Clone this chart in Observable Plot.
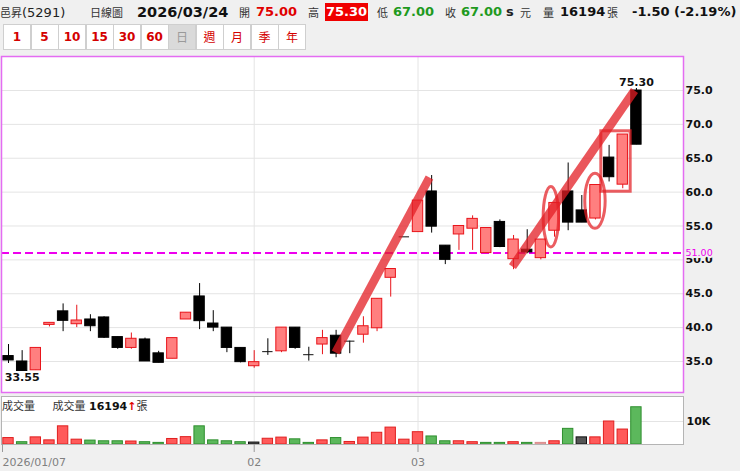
<!DOCTYPE html>
<html><head><meta charset="utf-8">
<script src="https://cdn.jsdelivr.net/npm/d3@7"></script>
<script src="https://cdn.jsdelivr.net/npm/@observablehq/plot@0.6"></script>
<style>
body{margin:0;background:#f0f0f0;width:740px;height:471px;overflow:hidden;position:relative;font-family:"DejaVu Sans",sans-serif;}
.h{position:absolute;top:3px;line-height:18px;white-space:nowrap;font-size:13px;color:#222}
.c{font-family:"Noto Sans CJK TC","DejaVu Sans";font-size:11px;color:#333}
.b{font-weight:bold}
.btn{position:absolute;top:24px;width:26px;height:24px;border:1px solid #cfcfcf;background:#fff;color:#d40000;font-weight:bold;font-size:12px;text-align:center;line-height:24px;box-sizing:content-box}
.btn.cj{font-weight:normal;font-family:"Noto Sans CJK TC";font-size:12px}
.btn.sel{background:#dadada;color:#9a9a9a}
#price{position:absolute;left:0;top:54px}
#vol{position:absolute;left:0;top:394px}
#voltitle{position:absolute;left:2px;top:398px;font-size:11px;line-height:14px;white-space:nowrap;color:#333}
</style></head>
<body>
<div id="hdr"></div>
<div id="price"></div>
<div id="vol"></div>
<div id="voltitle"></div>
<script>
// ---------- data ----------
const stockName = "邑昇(5291)";
const chartType = "日線圖";
const lastDate = "2026/03/24";
const quote = {open: "75.00", high: "75.30", low: "67.00", close: "67.00", vol: "16194", chg: "-1.50 (-2.19%)"};
const periodButtons = ["1","5","10","15","30","60","日","週","月","季","年"];

const openP  = [35.8,35.0,33.7,40.4,42.4,40.5,41.2,41.5,38.6,37.0,38.25,36.2,35.4,41.2,44.6,40.6,40.0,37.0,34.3,36.45,36.5,40.0,36.0,37.5,38.8,38.0,38.95,39.9,47.35,53.4,54.1,60.1,52.1,53.75,54.6,51.0,55.6,50.1,51.5,50.25,54.3,60.1,57.3,56.1,65.1,61.1,75.0];
const highP  = [37.5,36.6,37.0,40.7,43.5,43.3,41.9,41.6,38.6,39.2,38.45,36.5,38.45,42.2,46.5,42.5,40.0,37.0,36.6,38.35,40.0,40.0,37.1,39.6,39.6,38.0,41.6,44.25,48.65,53.4,58.75,62.45,52.1,55.0,56.5,54.7,55.9,53.6,54.45,53.0,58.4,64.3,59.5,61.05,66.9,68.5,75.3];
const lowP   = [34.7,33.55,33.7,40.1,39.4,40.0,39.4,38.4,36.8,36.8,35.0,34.8,35.4,41.2,39.7,39.4,36.3,34.8,34.0,35.9,36.3,36.8,35.05,36.0,35.55,36.15,37.7,39.4,44.5,53.4,54.1,53.95,49.3,51.4,51.4,51.0,51.8,48.55,50.9,50.0,53.35,54.3,55.5,55.9,61.5,60.5,67.0];
const closeP = [35.15,33.6,37.0,40.7,41.0,41.05,40.2,38.5,37.0,38.35,35.0,34.8,38.45,42.2,40.95,40.0,37.0,34.9,34.9,36.45,40.0,37.0,36.0,38.45,36.15,38.0,40.2,44.25,48.65,53.4,58.75,54.9,50.0,55.0,56.05,54.7,51.9,53.0,51.1,53.0,58.4,55.5,55.5,61.05,62.2,68.5,67.0];
const volume = [2800,1000,3100,1800,7900,2100,1700,1400,1400,1300,1000,700,2400,3200,7900,1800,1400,1000,850,2500,3000,2250,700,1800,2800,1100,3000,5100,7350,2100,5350,3500,1400,1400,1000,700,700,1000,700,700,1400,6800,3100,3100,10000,6500,16194];
const volDir = ["u","d","u","u","u","u","d","d","d","u","d","d","u","u","d","d","d","d","f","u","u","d","d","u","d","u","u","u","u","u","u","d","d","u","u","d","d","u","d","p","u","d","f","u","u","u","d"];

const tickIdx = [0, 18, 30];
const tickText = ["2026/01/07", "02", "03"];
const priceTicks = [35,40,45,50,55,60,65,70,75];
const volTicks = [10000];
const refLevel = [51];
const labelHigh = [{i: 46, p: 75.3, t: "75.30"}];
const labelLow = [{i: 1, p: 33.55, t: "33.55"}];
// annotations (in index / price units)
const trendLines = [{x1: 23.96, y1: 36.33, x2: 30.84, y2: 62.16}, {x1: 36.92, y1: 49.0, x2: 45.86, y2: 75.0}];
const ellipses = [{cx: 39.77, cy: 56.3, rx: 0.564, ry: 4.46}, {cx: 43.0, cy: 58.65, rx: 0.747, ry: 4.06}];
const boxes = [{x1: 43.43, x2: 45.58, y1: 60.06, y2: 68.98}];

// ---------- header ----------
const hdr = document.getElementById("hdr");
const items = [
  [0, `<span class="c" style="font-size:11px">邑昇</span>(5291)`, ""],
  [90, chartType, "c"],
  [137, lastDate, "b", "font-size:14.5px;color:#111"],
  [239, "開", "c"],
  [256, quote.open, "b", "color:#e00000"],
  [308, "高", "c"],
  [325, quote.high, "b", "color:#fff;background:#f00000;padding:0 1px"],
  [377, "低", "c"],
  [393, quote.low, "b", "color:#1e9a1e"],
  [445, "收", "c"],
  [461, quote.close, "b", "color:#1e9a1e"],
  [506, "s", "b"],
  [520, "元", "c"],
  [543, "量", "c"],
  [560, quote.vol, "b", "color:#111"],
  [607, "張", "c"],
  [632, quote.chg, "b", "color:#111"]
];
for (const [x, t, cls, st] of items) {
  const s = document.createElement("span");
  s.className = "h " + (cls || "");
  s.style.left = x + "px";
  if (st) s.style.cssText += st;
  s.innerHTML = t;
  hdr.appendChild(s);
}
periodButtons.forEach((t, k) => {
  const d = document.createElement("div");
  d.className = "btn" + (/[0-9]/.test(t) ? "" : " cj") + (t === "日" ? " sel" : "");
  d.style.left = (3 + k * 27.5) + "px";
  d.textContent = t;
  hdr.appendChild(d);
});
document.getElementById("voltitle").innerHTML =
  `<span class="c">成交量</span>&nbsp;&nbsp;&nbsp;&nbsp;&nbsp;<span class="c">成交量</span> <b style="color:#111">${quote.vol}</b><span style="color:#e00000;font-weight:bold">↑</span><span class="c">張</span>`;

// ---------- chart ----------
const candles = openP.map((o, i) => ({i, o, h: highP[i], l: lowP[i], c: closeP[i], v: volume[i], dir: volDir[i]}));
const up = candles.filter(d => d.c > d.o);
const dn = candles.filter(d => d.c < d.o);
const eq = candles.filter(d => d.c === d.o);
const hw = 0.38;
const xDomain = [-0.513, 49.45];
const RED = "#e8141a", RFILL = "#ff7f7f";
const ANN = "#e31e24";

function ellipseMark(index, scales) {
  const g = d3.create("svg:g");
  for (const e of ellipses) {
    const cx = scales.x(e.cx), cy = scales.y(e.cy);
    const rx = Math.abs(scales.x(e.cx + e.rx) - cx), ry = Math.abs(scales.y(e.cy + e.ry) - cy);
    g.append("ellipse").attr("cx", cx).attr("cy", cy).attr("rx", rx).attr("ry", ry)
      .attr("fill", "none").attr("stroke", ANN).attr("stroke-opacity", 0.72).attr("stroke-width", 3);
  }
  return g.node();
}

const price = Plot.plot({
  width: 740, height: 340,
  marginLeft: 1, marginRight: 57, marginTop: 2, marginBottom: 2,
  style: {fontFamily: "DejaVu Sans", background: "transparent", overflow: "visible"},
  x: {domain: xDomain, axis: null},
  y: {domain: [30.42, 80.02], axis: null},
  marks: [
    Plot.frame({fill: "white", stroke: "none"}),
    Plot.gridY(priceTicks, {stroke: "#e4e4e4", strokeOpacity: 1}),
    Plot.gridX([18, 30], {stroke: "#e4e4e4", strokeOpacity: 1}),
    Plot.axisY({anchor: "right", ticks: priceTicks, tickFormat: d => d.toFixed(1), tickSize: 0, tickPadding: 2, fontSize: 11, fontWeight: "bold", fill: "#111", label: null}),
    Plot.ruleY(refLevel, {stroke: "#ee00ee", strokeWidth: 2, strokeDasharray: "8,4"}),
    Plot.text(refLevel, {x: xDomain[1], y: d => d, text: d => d.toFixed(2), textAnchor: "start", dx: 2, fontSize: 9.5, fill: "#ee00ee", stroke: "#f0f0f0", strokeWidth: 4, paintOrder: "stroke"}),
    // wicks
    Plot.ruleX(up, {x: "i", y1: "l", y2: "h", stroke: RED}),
    Plot.ruleX(dn, {x: "i", y1: "l", y2: "h", stroke: "#000"}),
    Plot.ruleX(eq, {x: "i", y1: "l", y2: "h", stroke: "#000"}),
    // bodies
    Plot.rect(up, {x1: d => d.i - hw, x2: d => d.i + hw, y1: "o", y2: "c", fill: RFILL, stroke: RED}),
    Plot.rect(dn, {x1: d => d.i - hw, x2: d => d.i + hw, y1: "o", y2: "c", fill: "#000", stroke: "#000"}),
    Plot.ruleY(eq, {y: "c", x1: d => d.i - hw, x2: d => d.i + hw, stroke: "#111"}),
    // labels
    Plot.text(labelHigh, {x: "i", y: "p", text: "t", lineAnchor: "bottom", dy: -2, fontSize: 11, fontWeight: "bold", fill: "#111"}),
    Plot.text(labelLow, {x: "i", y: "p", text: "t", lineAnchor: "top", dy: 2, fontSize: 11, fontWeight: "bold", fill: "#111"}),
    // annotations
    Plot.link(trendLines, {x1: "x1", y1: "y1", x2: "x2", y2: "y2", stroke: ANN, strokeOpacity: 0.75, strokeWidth: 8.5}),
    Plot.rect(boxes, {x1: "x1", x2: "x2", y1: "y1", y2: "y2", fill: "none", stroke: ANN, strokeOpacity: 0.72, strokeWidth: 3}),
    ellipseMark,
    Plot.frame({stroke: "#e46cf2", strokeWidth: 1.5})
  ]
});
document.getElementById("price").appendChild(price);

const volFill = {u: "#ff5a5a", d: "#5cb85c", f: "#555555", p: "#e9a3a3"};
const volStroke = {u: "#e02020", d: "#2f8f2f", f: "#111111", p: "#d98c8c"};
const vol = Plot.plot({
  width: 740, height: 77,
  marginLeft: 1, marginRight: 57, marginTop: 2, marginBottom: 27,
  style: {fontFamily: "DejaVu Sans", background: "transparent", overflow: "visible"},
  x: {domain: xDomain, axis: null},
  y: {domain: [0, 20870], axis: null},
  marks: [
    Plot.frame({fill: "white", stroke: "none"}),
    Plot.gridY(volTicks, {stroke: "#e4e4e4", strokeOpacity: 1}),
    Plot.gridX([18, 30], {stroke: "#e4e4e4", strokeOpacity: 1}),
    ...Object.keys(volFill).map(k => Plot.rectY(candles.filter(d => d.dir === k), {x1: d => d.i - hw, x2: d => d.i + hw, y: "v", fill: volFill[k], stroke: volStroke[k]})),
    Plot.frame({stroke: "#b4b4b4"}),
    Plot.axisY({anchor: "right", ticks: volTicks, tickFormat: () => "10K", tickSize: 0, tickPadding: 3, fontSize: 11, fontWeight: "bold", fill: "#111", label: null}),
    Plot.axisX({ticks: tickIdx.slice(0, 1), tickFormat: i => tickText[tickIdx.indexOf(i)], tickSize: 8, tickPadding: 6, textAnchor: "start", dx: -6, fontSize: 11, fill: "#808080", stroke: "#999", label: null}),
    Plot.axisX({ticks: tickIdx.slice(1), tickFormat: i => tickText[tickIdx.indexOf(i)], tickSize: 8, tickPadding: 6, fontSize: 11, fill: "#808080", stroke: "#999", label: null})
  ]
});
document.getElementById("vol").appendChild(vol);
</script>
</body></html>
